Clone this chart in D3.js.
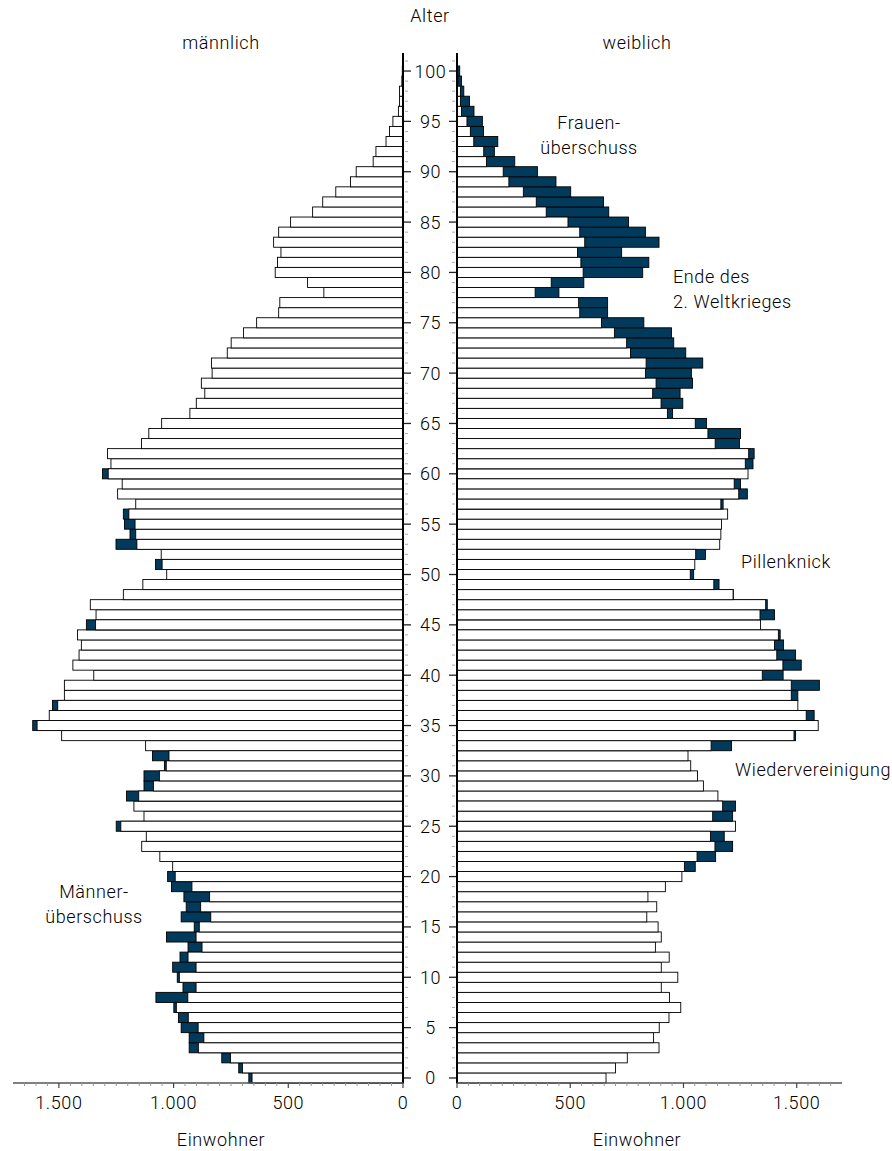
<!DOCTYPE html>
<html>
<head>
<meta charset="utf-8">
<script src="https://cdn.jsdelivr.net/npm/d3@7"></script>
<style>
  body { margin: 0; background: #fff; }
  svg text { font-family: Roboto, 'Liberation Sans', sans-serif; font-weight: 300; fill: #000; letter-spacing: 0.6px; }
</style>
</head>
<body>
<div id="pyramid"></div>
<script>
// Einwohner je Altersjahr (0..100)
const ages = d3.range(0, 101);
const male = [
  672, 716, 790, 932, 932, 967, 979, 999, 1077, 959,
  984, 1004, 972, 937, 1031, 910, 967, 945, 955, 1009,
  1026, 1004, 1060, 1139, 1119, 1250, 1129, 1173, 1205, 1129,
  1129, 1040, 1092, 1122, 1488, 1614, 1542, 1528, 1476, 1476,
  1348, 1439, 1412, 1402, 1419, 1380, 1338, 1363, 1219, 1134,
  1030, 1079, 1054, 1251, 1190, 1214, 1219, 1165, 1244, 1224,
  1310, 1273, 1288, 1140, 1108, 1052, 929, 901, 864, 879,
  832, 835, 766, 749, 695, 638, 542, 537, 345, 416,
  557, 547, 532, 564, 542, 490, 394, 350, 293, 229,
  204, 130, 118, 74, 59, 44, 20, 15, 15, 5,
  3
];
const female = [
  658, 700, 752, 892, 868, 893, 936, 988, 938, 902,
  975, 902, 937, 876, 902, 888, 838, 882, 843, 920,
  993, 1052, 1142, 1217, 1180, 1230, 1217, 1230, 1152, 1088,
  1062, 1032, 1020, 1212, 1495, 1595, 1577, 1505, 1505, 1600,
  1440, 1520, 1495, 1442, 1427, 1340, 1402, 1370, 1220, 1157,
  1045, 1050, 1097, 1160, 1165, 1168, 1195, 1175, 1282, 1252,
  1285, 1307, 1312, 1247, 1252, 1102, 952, 997, 985, 1040,
  1035, 1085, 1010, 957, 947, 825, 665, 665, 450, 560,
  820, 847, 727, 892, 832, 757, 670, 647, 502, 437,
  355, 255, 165, 180, 117, 112, 75, 55, 30, 20,
  12
];
const valueTicks = [0, 500, 1000, 1500];
const ageTicks = d3.range(0, 101, 5);

const notes = [
  { lines: ['Frauen-', 'überschuss'], x: 589, y: 129, anchor: 'middle' },
  { lines: ['Ende des', '2. Weltkrieges'], x: 673, y: 283, anchor: 'start' },
  { lines: ['Pillenknick'], x: 741, y: 568, anchor: 'start' },
  { lines: ['Wiedervereinigung'], x: 735, y: 776, anchor: 'start' },
  { lines: ['Männer-', 'überschuss'], x: 94, y: 898, anchor: 'middle' }
];

const W = 892, H = 1151;
const dark = '#023a5c';
const leftZero = 403, rightZero = 457;
const yTop = 66, yBottom = 1083;
const fontSize = 18;

const svg = d3.select('#pyramid').append('svg')
  .attr('width', W).attr('height', H);

const y = d3.scaleBand().domain(ages.slice().reverse()).range([yTop, yBottom]).padding(0);
const xM = d3.scaleLinear().domain([0, 1700]).range([leftZero, 13]);
const xF = d3.scaleLinear().domain([0, 1700]).range([rightZero, 842]);

const rows = ages.map(a => ({ age: a, m: male[a], f: female[a] }));

// bars: dark full length, white part up to the smaller value
const drawSide = (x, key, other) => {
  const g = svg.append('g');
  g.selectAll('rect.full').data(rows).enter().append('rect')
    .attr('x', d => Math.min(x(0), x(d[key])))
    .attr('y', d => y(d.age))
    .attr('width', d => Math.abs(x(d[key]) - x(0)))
    .attr('height', y.bandwidth())
    .attr('fill', d => d[key] > d[other] ? dark : '#fff')
    .attr('stroke', '#000').attr('stroke-width', 0.9);
  g.selectAll('rect.base').data(rows.filter(d => d[key] > d[other])).enter().append('rect')
    .attr('x', d => Math.min(x(0), x(d[other])))
    .attr('y', d => y(d.age))
    .attr('width', d => Math.abs(x(d[other]) - x(0)))
    .attr('height', y.bandwidth())
    .attr('fill', '#fff')
    .attr('stroke', '#000').attr('stroke-width', 0.9);
};
drawSide(xM, 'm', 'f');
drawSide(xF, 'f', 'm');

// age axes (two vertical lines with ticks pointing to the middle)
const yc = a => y(a) + y.bandwidth() / 2;
const minorAges = d3.range(0, 102).filter(a => a % 5 !== 0);
const ageAxis = svg.append('g');
minorAges.forEach(a => {
  const yy = yc(Math.min(a, 100)) - (a > 100 ? y.bandwidth() : 0);
  ageAxis.append('line').attr('x1', leftZero + 2).attr('x2', leftZero + 5)
    .attr('y1', yy).attr('y2', yy).attr('stroke', '#aaa').attr('stroke-width', 1);
  ageAxis.append('line').attr('x1', rightZero - 2).attr('x2', rightZero - 5)
    .attr('y1', yy).attr('y2', yy).attr('stroke', '#aaa').attr('stroke-width', 1);
});
ageTicks.forEach(a => {
  ageAxis.append('line').attr('x1', leftZero).attr('x2', leftZero + 8)
    .attr('y1', yc(a)).attr('y2', yc(a)).attr('stroke', '#222').attr('stroke-width', 1.3);
  ageAxis.append('line').attr('x1', rightZero).attr('x2', rightZero - 8)
    .attr('y1', yc(a)).attr('y2', yc(a)).attr('stroke', '#222').attr('stroke-width', 1.3);
  ageAxis.append('text').attr('x', (leftZero + rightZero) / 2 + 0.5).attr('y', yc(a) + 6.5)
    .attr('text-anchor', 'middle').attr('font-size', fontSize).text(a);
});
[leftZero, rightZero].forEach(x0 => {
  ageAxis.append('line').attr('x1', x0).attr('x2', x0).attr('y1', 53).attr('y2', yBottom)
    .attr('stroke', '#000').attr('stroke-width', 2);
});

// value axes at the bottom
const fmt = d => d3.format(',')(d).replace(/,/g, '.');
const drawValueAxis = x => {
  const g = svg.append('g');
  g.append('line').attr('x1', x(0)).attr('x2', x(1700)).attr('y1', yBottom).attr('y2', yBottom)
    .attr('stroke', '#555').attr('stroke-width', 1.5);
  d3.range(50, 1700, 50).filter(v => v % 500 !== 0).forEach(v => {
    g.append('line').attr('x1', x(v)).attr('x2', x(v)).attr('y1', yBottom).attr('y2', yBottom + 3)
      .attr('stroke', '#999').attr('stroke-width', 1);
  });
  valueTicks.forEach(v => {
    g.append('line').attr('x1', x(v)).attr('x2', x(v)).attr('y1', yBottom).attr('y2', yBottom + 5)
      .attr('stroke', '#444').attr('stroke-width', 1.2);
    g.append('text').attr('x', x(v)).attr('y', 1109).attr('text-anchor', 'middle')
      .attr('font-size', fontSize).text(fmt(v));
  });
};
drawValueAxis(xM);
drawValueAxis(xF);

// titles
const label = (t, x, yy) => svg.append('text').attr('x', x).attr('y', yy)
  .attr('text-anchor', 'middle').attr('font-size', fontSize).text(t);
label('Alter', 430, 22);
label('männlich', 221, 49);
label('weiblich', 637, 49);
label('Einwohner', 221, 1146);
label('Einwohner', 637, 1146);

// annotations
notes.forEach(n => {
  const t = svg.append('text').attr('x', n.x).attr('y', n.y)
    .attr('text-anchor', n.anchor).attr('font-size', fontSize);
  n.lines.forEach((l, i) => t.append('tspan').attr('x', n.x).attr('dy', i ? 25 : 0).text(l));
});
</script>
</body>
</html>
